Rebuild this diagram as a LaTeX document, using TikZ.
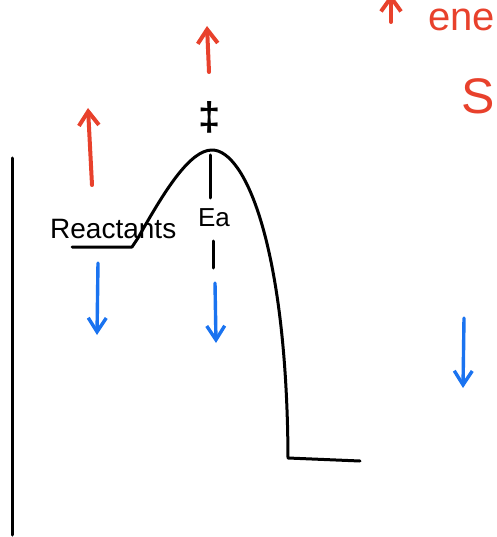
\documentclass[tikz,border=0pt]{standalone}
\usepackage{fontspec}
\setmainfont{Liberation Sans}
\usetikzlibrary{positioning, arrows.meta}
\definecolor{penred}{HTML}{E8412C}
\definecolor{penblue}{HTML}{1A73F0}
\tikzset{
	pen/.style={
			line width=3pt,
			line cap=round,
			line join=round
		},
	uparrow/.style={
			pen,
			draw=penred,
			line width=4pt,
			-{Straight Barb[length=14pt,width=20pt,line width=4pt]}
		},
	downarrow/.style={
			pen,
			draw=penblue,
			line width=3.4pt,
			-{Straight Barb[length=14pt,width=18pt,line width=3.4pt]}
		},
	handtext/.style={
			inner sep=0pt,
			text=black
		},
	redtext/.style={
			inner sep=0pt,
			text=penred
		}
}

\begin{document}
\begin{tikzpicture}[x=1pt, y=-1pt]
	\useasboundingbox (0,0) rectangle (496,537);
	\clip (0,0) rectangle (496,537);
	% axis
	\coordinate (axistop) at (12,158);
	\coordinate (axisbot) at (12,535);
	\draw[pen] (axistop) -- (axisbot);
	% energy profile
	\coordinate (rstart) at (72,247);
	\coordinate (rend) at (132,247);
	\coordinate (peak) at (212,150);
	\coordinate (pstart) at (288,458);
	\coordinate (pend) at (360,461);
	\draw[pen] (rstart) -- (rend) -- (138,238)
		.. controls (165,190) and (190,150) .. (peak)
		.. controls (246,150) and (287,250) .. (pstart) -- (pend);
	% labels
	\node[handtext, anchor=base west, font=\fontsize{28}{30}\selectfont] (reactants) at (50,238) {Reactants};
	\node[handtext, font=\fontsize{26}{28}\selectfont] (ea) at (214,218) {Ea};
	\node[handtext, font=\fontsize{40}{42}\selectfont\bfseries] (ts) at (210,117) {‡};
	\coordinate (eatop) at (210,155);
	\coordinate (eamid) at (210,198);
	\coordinate (eaunder) at (213,241);
	\coordinate (eabot) at (213,268);
	\draw[pen] (eatop) -- (eamid);
	\draw[pen] (eaunder) -- (eabot);
	% red arrows
	\coordinate (up1a) at (92,185);
	\coordinate (up1b) at (88,108);
	\coordinate (up2a) at (209,72);
	\coordinate (up2b) at (207,26);
	\coordinate (up3a) at (391,22);
	\coordinate (up3b) at (391,-6);
	\draw[uparrow] (up1a) -- (up1b);
	\draw[uparrow] (up2a) -- (up2b);
	\draw[uparrow] (up3a) -- (up3b);
	\node[redtext, anchor=base east, text height=22pt, font=\fontsize{40}{42}\selectfont] (energy) at (495,31) {ene};
	\node[redtext, anchor=base east, font=\fontsize{50}{52}\selectfont] (s) at (495,114) {S};
	% blue arrows
	\coordinate (dn1a) at (98,263);
	\coordinate (dn1b) at (97,335);
	\coordinate (dn2a) at (215,283);
	\coordinate (dn2b) at (216,343);
	\coordinate (dn3a) at (464,318);
	\coordinate (dn3b) at (463,388);
	\draw[downarrow] (dn1a) -- (dn1b);
	\draw[downarrow] (dn2a) -- (dn2b);
	\draw[downarrow] (dn3a) -- (dn3b);
\end{tikzpicture}
\end{document}
